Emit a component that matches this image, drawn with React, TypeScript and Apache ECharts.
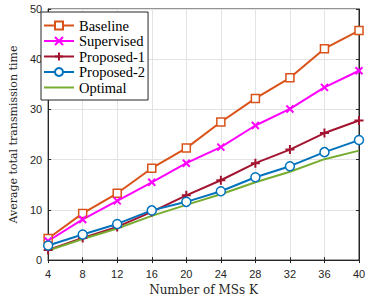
import React, { useEffect, useRef } from "react";
import * as echarts from "echarts";

const categories = [4, 8, 12, 16, 20, 24, 28, 32, 36, 40];
const baseline = [4.3, 9.3, 13.3, 18.3, 22.3, 27.5, 32.2, 36.3, 42.1, 45.7];
const supervised = [3.8, 8.1, 11.8, 15.5, 19.3, 22.5, 26.8, 30.1, 34.4, 37.7];
const proposed1 = [2.0, 4.4, 6.6, 9.6, 12.9, 15.9, 19.3, 22.0, 25.3, 27.8];
const proposed2 = [2.9, 5.1, 7.2, 9.9, 11.6, 13.7, 16.5, 18.7, 21.5, 23.9];
const optimal = [1.9, 4.2, 6.3, 8.8, 11.0, 13.1, 15.5, 17.6, 20.1, 21.8];
const seriesNames = ["Baseline", "Supervised", "Proposed-1", "Proposed-2", "Optimal"];

const pair = (arr: number[]) => categories.map((k, i) => [k, arr[i]]);

export default function App() {
  const ref = useRef<HTMLDivElement>(null);
  useEffect(() => {
    if (!ref.current) return;
    const chart = echarts.init(ref.current, undefined, { renderer: "svg" });
    const serif = "'DejaVu Serif', 'Liberation Serif', serif";
    const legendSerif = "'Liberation Serif', 'DejaVu Serif', serif";
    const sans = "'Liberation Sans', Arial, sans-serif";
    const axisColor = "#262626";
    const mk = (name: string, data: number[], color: string, symbol: string, size: number, fillWhite: boolean) => ({
      name,
      type: "line",
      data: pair(data),
      symbol,
      symbolSize: size,
      showSymbol: symbol !== "none",
      lineStyle: { color, width: 2 },
      itemStyle: fillWhite
        ? { color: "#fff", borderColor: color, borderWidth: 1.5 }
        : { color: "none", borderColor: color, borderWidth: 2 },
      color,
      z: 3,
    });
    chart.setOption({
      animation: false,
      backgroundColor: "#fff",
      grid: { left: 35, right: 15, top: 9, bottom: 38, show: true, borderColor: axisColor, borderWidth: 1 },
      legend: {
        left: 41,
        top: 12,
        orient: "vertical",
        data: [
          seriesNames[0],
          seriesNames[1],
          seriesNames[2],
          seriesNames[3],
          { name: seriesNames[4], icon: "path://M0,4L30,4L30,6L0,6Z", itemStyle: { color: "#77AC30", borderWidth: 0 } },
        ],
        itemWidth: 30,
        itemHeight: 10,
        itemGap: 0.5,
        textStyle: { fontFamily: legendSerif, fontSize: 14.5, color: "#000" },
        backgroundColor: "#fff",
        borderColor: axisColor,
        borderWidth: 1,
        borderRadius: 0,
        padding: [6, 3, 5, 2],
      },
      xAxis: [
        {
          type: "value",
          min: 4,
          max: 40,
          interval: 4,
          name: "Number of MSs K",
          nameLocation: "middle",
          nameGap: 22,
          nameTextStyle: { fontFamily: serif, fontSize: 12, color: "#262626" },
          axisLine: { lineStyle: { color: axisColor } },
          axisTick: { inside: true, length: 3, lineStyle: { color: axisColor } },
          axisLabel: { fontFamily: sans, fontSize: 11, color: axisColor, margin: 8 },
          splitLine: { show: true, lineStyle: { color: "#e3e3e3", width: 1 } },
        },
        {
          type: "value",
          position: "top",
          min: 4,
          max: 40,
          interval: 4,
          axisLine: { show: true, lineStyle: { color: axisColor } },
          axisTick: { inside: true, length: 3, lineStyle: { color: axisColor } },
          axisLabel: { show: false },
          splitLine: { show: false },
        },
      ],
      yAxis: [
        {
          type: "value",
          min: 0,
          max: 50,
          interval: 10,
          name: "Average total transmission time",
          nameLocation: "middle",
          nameGap: 22,
          nameTextStyle: { fontFamily: serif, fontSize: 11, color: "#262626" },
          axisLine: { show: true, lineStyle: { color: axisColor } },
          axisTick: { show: true, inside: true, length: 3, lineStyle: { color: axisColor } },
          axisLabel: { fontFamily: sans, fontSize: 11, color: axisColor, margin: 6 },
          splitLine: { show: true, lineStyle: { color: "#e3e3e3", width: 1 } },
        },
        {
          type: "value",
          position: "right",
          min: 0,
          max: 50,
          interval: 10,
          axisLine: { show: true, lineStyle: { color: axisColor } },
          axisTick: { show: true, inside: true, length: 3, lineStyle: { color: axisColor } },
          axisLabel: { show: false },
          splitLine: { show: false },
        },
      ],
      series: [
        mk("Baseline", baseline, "#D95319", "rect", 8, true),
        mk("Supervised", supervised, "#FF00FF", "path://M0,0L10,10M10,0L0,10", 7, false),
        mk("Proposed-1", proposed1, "#A2142F", "path://M5,0L5,10M0,5L10,5", 9, false),
        mk("Proposed-2", proposed2, "#0072BD", "circle", 9, true),
        mk("Optimal", optimal, "#77AC30", "none", 0, false),
      ],
    });
    return () => chart.dispose();
  }, []);
  return <div ref={ref} style={{ width: 374, height: 301, position: "absolute", left: 0, top: 0 }} />;
}
